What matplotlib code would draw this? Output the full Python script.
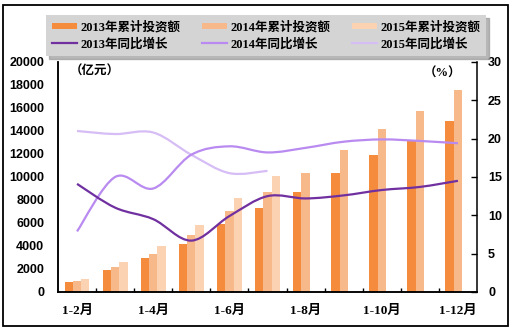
import numpy as np
import matplotlib
matplotlib.use('Agg')
import matplotlib.pyplot as plt
from matplotlib.path import Path
from matplotlib.patches import PathPatch, Rectangle
from matplotlib.lines import Line2D

months = ['1-2月', '1-3月', '1-4月', '1-5月', '1-6月', '1-7月',
          '1-8月', '1-9月', '1-10月', '1-11月', '1-12月']
inv2013 = [870, 1910, 2960, 4170, 5910, 7300, 8700, 10350, 11910, 13220, 14870]
inv2014 = [960, 2170, 3300, 4960, 7040, 8700, 10350, 12350, 14170, 15740, 17570]
inv2015 = [1130, 2610, 4000, 5830, 8170, 10090]
growth2013 = [14.1, 11.0, 9.5, 6.7, 9.9, 12.5, 12.2, 12.6, 13.3, 13.7, 14.5]
growth2014 = [7.9, 15.0, 13.5, 17.9, 19.0, 18.2, 18.8, 19.6, 19.9, 19.7, 19.4]
growth2015 = [21.0, 20.6, 20.8, 17.9, 15.5, 15.8]

c13, c14, c15 = '#F58B3C', '#F8B98A', '#FBD3B3'
l13, l14, l15 = '#7030A0', '#B98AF0', '#D6BDF5'

num_font = ['Liberation Sans', 'DejaVu Sans']
cjk_font = ['Liberation Serif', 'Noto Sans CJK SC', 'DejaVu Sans']


def smooth_path(xs, ys):
    # Excel-style smoothed line: Catmull-Rom segments as cubic Beziers
    pts = np.column_stack([xs, ys]).astype(float)
    n = len(pts)
    verts = [pts[0]]
    codes = [Path.MOVETO]
    for i in range(n - 1):
        p0 = pts[i - 1] if i > 0 else pts[i]
        p1 = pts[i]
        p2 = pts[i + 1]
        p3 = pts[i + 2] if i + 2 < n else pts[i + 1]
        verts += [p1 + (p2 - p0) / 6, p2 - (p3 - p1) / 6, p2]
        codes += [Path.CURVE4] * 3
    return Path(verts, codes)


fig = plt.figure(figsize=(5.16, 3.30), dpi=100)
ax = fig.add_axes([0.1124, 0.1152, 0.8120, 0.6970])

x = np.arange(len(months))
w = 0.218
ax.bar(x - w, inv2013, w, color=c13, zorder=2)
ax.bar(x, inv2014, w, color=c14, zorder=2)
ax.bar(x[:len(inv2015)] + w, inv2015, w, color=c15, zorder=2)

ax.set_xlim(-0.5, len(months) - 0.5)
ax.set_ylim(0, 20000)
ax.set_yticks(np.arange(0, 20001, 2000))
ax.tick_params(axis='y', length=0, pad=10)
ax.set_xticks(x[::2])
ax.set_xticklabels(months[::2])
ax.set_xticks(np.arange(0.5, len(months) - 1, 1), minor=True)
ax.tick_params(axis='x', which='major', length=0, pad=9)
ax.tick_params(axis='x', which='minor', length=3, direction='in', width=1)
for lab in ax.get_yticklabels():
    lab.set_fontfamily(num_font)
    lab.set_fontweight('bold')
    lab.set_fontsize(9)
for lab in ax.get_xticklabels():
    lab.set_fontfamily(cjk_font)
    lab.set_fontweight('bold')
    lab.set_fontsize(9.5)

ax2 = ax.twinx()
ax2.set_ylim(0, 30)
ax2.set_yticks(np.arange(0, 31, 5))
ax2.tick_params(axis='y', length=4, direction='in', pad=8, width=1)
for lab in ax2.get_yticklabels():
    lab.set_fontfamily(num_font)
    lab.set_fontweight('bold')
    lab.set_fontsize(9)

for a in (ax, ax2):
    a.spines['top'].set_visible(False)
    for s in ('left', 'right', 'bottom'):
        a.spines[s].set_linewidth(1.1)
ax.spines['right'].set_visible(False)

for ys, col in ((growth2015, l15), (growth2014, l14), (growth2013, l13)):
    ax2.add_patch(PathPatch(smooth_path(x[:len(ys)], ys), fill=False,
                            edgecolor=col, linewidth=1.6, zorder=3))

ax.text(0.087, 0.985, '（亿元）', transform=ax.transAxes, ha='center', va='top',
        fontsize=9, fontweight='bold', family=cjk_font)
ax.text(0.918, 0.975, '（%）', transform=ax.transAxes, ha='center', va='top',
        fontsize=9, fontweight='bold', family=cjk_font)

handles = [
    Line2D([], [], color=c13, linewidth=4.3, solid_capstyle='butt'),
    Line2D([], [], color=l13, linewidth=1.6),
    Line2D([], [], color=c14, linewidth=4.3, solid_capstyle='butt'),
    Line2D([], [], color=l14, linewidth=1.6),
    Line2D([], [], color=c15, linewidth=4.3, solid_capstyle='butt'),
    Line2D([], [], color=l15, linewidth=1.6),
]
labels = ['2013年累计投资额', '2013年同比增长', '2014年累计投资额',
          '2014年同比增长', '2015年累计投资额', '2015年同比增长']
fig.legend(handles, labels, ncol=3, loc='upper center',
           bbox_to_anchor=(0.5155, 0.972), frameon=True, fancybox=False,
           facecolor='#D4D4D4', edgecolor='none', framealpha=1,
           shadow={'color': '0.6', 'alpha': 0.7},
           handlelength=2.0, handletextpad=0.3, columnspacing=1.7,
           labelspacing=0.35, borderpad=0.45,
           prop={'family': cjk_font, 'weight': 'bold', 'size': 9})

fig.patches.append(Rectangle((3 / 516, 4 / 330), 505 / 516, 321 / 330,
                             transform=fig.transFigure, fill=False,
                             edgecolor='black', linewidth=1.3))

fig.savefig('out.png', dpi=100)
